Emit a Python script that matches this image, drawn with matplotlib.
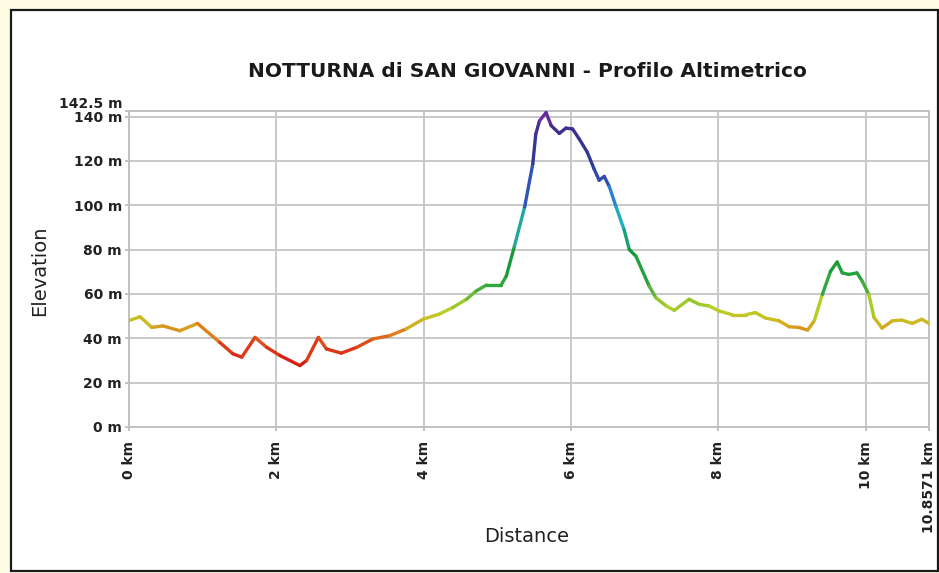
import matplotlib
matplotlib.use('Agg')
import matplotlib.pyplot as plt
import numpy as np
from matplotlib.collections import LineCollection
from matplotlib.colors import LinearSegmentedColormap, Normalize
from matplotlib.patches import Rectangle

# elevation profile (km, m)
dist_km = [0.00, 0.15, 0.31, 0.46, 0.69, 0.93, 1.23, 1.41, 1.53, 1.71, 1.87, 2.05,
           2.32, 2.41, 2.57, 2.68, 2.88, 3.09, 3.31, 3.54, 3.76, 3.99, 4.21, 4.39,
           4.58, 4.71, 4.85, 5.05, 5.12, 5.23, 5.37, 5.48, 5.52, 5.57, 5.66, 5.73,
           5.84, 5.93, 6.02, 6.11, 6.22, 6.31, 6.38, 6.45, 6.52, 6.61, 6.72, 6.79,
           6.88, 7.06, 7.15, 7.29, 7.40, 7.60, 7.74, 7.87, 8.01, 8.19, 8.37, 8.50,
           8.64, 8.82, 8.96, 9.09, 9.21, 9.30, 9.41, 9.52, 9.61, 9.68, 9.77, 9.88,
           9.95, 10.04, 10.11, 10.22, 10.36, 10.49, 10.63, 10.76, 10.8571]
elev_m = [48.0, 49.7, 44.9, 45.6, 43.4, 46.7, 38.2, 33.0, 31.5, 40.4, 35.9, 32.2,
          27.7, 30.0, 40.4, 35.2, 33.3, 35.9, 39.7, 41.2, 44.2, 48.6, 50.9, 53.8,
          57.6, 61.3, 64.0, 64.0, 68.0, 81.4, 99.3, 118.7, 132.0, 138.0, 141.8, 135.9,
          132.4, 134.8, 134.4, 129.9, 123.9, 116.5, 111.3, 113.0, 108.3, 99.3, 88.9, 80.0,
          77.0, 63.5, 58.3, 54.6, 52.6, 57.6, 55.3, 54.6, 52.3, 50.6, 50.6, 51.6,
          49.1, 47.9, 45.2, 44.9, 43.7, 47.9, 59.8, 70.2, 74.4, 69.5, 68.8, 69.5,
          65.8, 59.8, 49.4, 44.6, 47.9, 48.2, 46.7, 48.6, 46.7]

x_ticks = [0, 2, 4, 6, 8, 10, 10.8571]
x_tick_labels = ["0 km", "2 km", "4 km", "6 km", "8 km", "10 km", "10.8571 km"]
y_ticks = [0, 20, 40, 60, 80, 100, 120, 140, 142.5]
y_tick_labels = ["0 m", "20 m", "40 m", "60 m", "80 m", "100 m", "120 m", "140 m", "142.5 m"]

# colour by elevation: red (low) -> yellow -> green -> cyan -> blue -> purple (high)
cmap_stops = [(28, '#d21a10'), (36, '#de3e18'), (42, '#e07820'), (47, '#d0b820'),
              (53, '#b8d028'), (58, '#80c030'), (64, '#30a840'), (78, '#109838'),
              (90, '#20a8a0'), (98, '#20b0e0'), (104, '#2a80d0'), (110, '#3050b0'),
              (120, '#303c98'), (134, '#402e8c'), (142.5, '#7a2aa0')]

lo, hi = cmap_stops[0][0], cmap_stops[-1][0]
cmap = LinearSegmentedColormap.from_list(
    'profile', [((v - lo) / (hi - lo), c) for v, c in cmap_stops])

fig = plt.figure(figsize=(9.39, 5.73), dpi=100)
fig.patch.set_facecolor('#fffce6')
fig.patches.append(Rectangle((11 / 939, 2 / 573), 927 / 939, 561 / 573,
                             transform=fig.transFigure, facecolor='white',
                             edgecolor='#1a1a1a', linewidth=1.6, zorder=-10))

ax = fig.add_axes([129 / 939, 1 - 427 / 573, 800 / 939, 316 / 573])
ax.set_facecolor('white')

pts = np.column_stack([dist_km, elev_m]).reshape(-1, 1, 2)
segs = np.concatenate([pts[:-1], pts[1:]], axis=1)
mid = (np.array(elev_m[:-1]) + np.array(elev_m[1:])) / 2
lc = LineCollection(segs, cmap=cmap, norm=Normalize(lo, hi), linewidth=2.4,
                    capstyle='round', joinstyle='round', zorder=3)
lc.set_array(mid)
ax.add_collection(lc)

ax.set_xlim(0, 10.8571)
ax.set_ylim(0, 142.5)
ax.set_xticks(x_ticks)
ax.set_xticklabels(x_tick_labels, rotation=90, fontsize=10, fontweight='bold',
                   color='#222222', va='top')
ax.set_yticks(y_ticks)
ax.set_yticklabels(y_tick_labels, fontsize=10, fontweight='bold', color='#222222')
ax.get_yticklabels()[-1].set_verticalalignment('bottom')
ax.tick_params(axis='both', length=3, color='#b8b8b8', width=1.2)
ax.tick_params(axis='x', pad=7)
ax.tick_params(axis='y', pad=2)
ax.grid(True, color='#c8c8c8', linewidth=1.4)
ax.set_axisbelow(True)
for s in ax.spines.values():
    s.set_color('#c0c0c0')
    s.set_linewidth(1.4)

fig.text(527 / 939, 1 - 77 / 573, "NOTTURNA di SAN GIOVANNI - Profilo Altimetrico",
         ha='center', va='baseline', fontsize=14.5, fontweight='bold', color='#1a1a1a')
fig.text(40 / 939, 1 - 271 / 573, "Elevation", rotation=90, ha='center', va='center',
         fontsize=14, color='#222222')
fig.text(527 / 939, 1 - 537 / 573, "Distance", ha='center', va='center',
         fontsize=14, color='#222222')

fig.savefig('out.png', dpi=100, facecolor=fig.get_facecolor())
